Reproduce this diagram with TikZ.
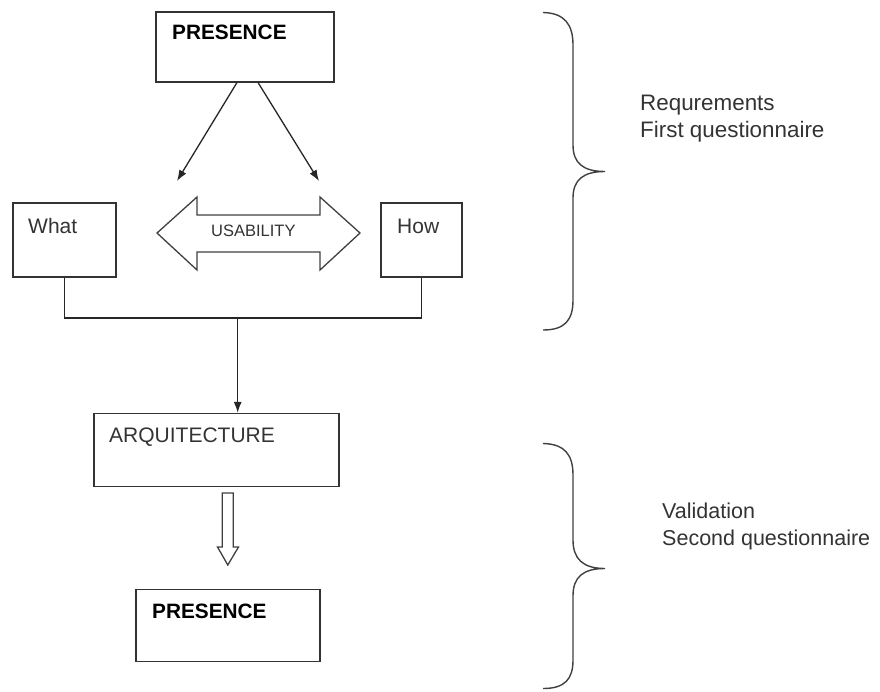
\documentclass[tikz,border=0pt]{standalone}
\usepackage{fontspec}
\setmainfont{Liberation Sans}
\usetikzlibrary{arrows.meta,calc}
\begin{document}
\begin{tikzpicture}[x=1pt,y=-1pt,
  box/.style={draw=black!80,line width=1.3pt,rectangle,inner sep=0pt},
  txt/.style={anchor=base west,inner sep=0pt,text=black!80,font=\fontsize{21}{24}\selectfont},
  bold/.style={anchor=base west,inner sep=0pt,text=black,font=\fontsize{20.8}{24}\selectfont\bfseries},
  side/.style={anchor=base west,inner sep=0pt,text=black!80,align=left,font=\fontsize{21.5}{27}\selectfont},
  conn/.style={draw=black!85,line width=1.3pt},
  arr/.style={conn,-{Latex[length=11pt,width=8pt]}},
  brace/.style={draw=black!75,line width=1.4pt},
  hollow/.style={draw=black!75,line width=1.3pt,fill=white,line join=miter}]
\useasboundingbox (0,0) rectangle (880,691);
% boxes
\node[box,minimum width=178,minimum height=70] (p1) at (245,47) {};
\node[bold] (p1t) at (172,39) {PRESENCE};
\node[box,minimum width=103,minimum height=74] (what) at (64.5,240) {};
\node[txt] (whatt) at (28,233) {What};
\node[box,minimum width=81,minimum height=74] (how) at (421.5,240) {};
\node[txt] (howt) at (397,233) {How};
\node[box,minimum width=245,minimum height=73] (arq) at (216.5,450) {};
\node[txt] (arqt) at (109,442) {ARQUITECTURE};
\node[box,minimum width=184,minimum height=72] (p2) at (228,625.5) {};
\node[bold] (p2t) at (152,618) {PRESENCE};
% arrows from top presence
\coordinate (a1) at (237,82.5);
\coordinate (a2) at (258,82.5);
\coordinate (e1) at (177,181);
\coordinate (e2) at (319,181);
\draw[arr] (a1) -- (e1);
\draw[arr] (a2) -- (e2);
% usability double arrow
\draw[hollow] (157,233) -- (197,197) -- (197,215) -- (320,215) -- (320,197) -- (360,233)
  -- (320,270) -- (320,252) -- (197,252) -- (197,270) -- cycle;
\node[anchor=base west,inner sep=0pt,text=black!80,font=\fontsize{16.5}{20}\selectfont] (us) at (211,236) {USABILITY};
% join connector
\coordinate (jn) at (237.7,318);
\draw[conn] (what.south) |- (jn) -| (how.south);
\draw[arr] (jn) -- (jn |- arq.north);
% hollow down arrow
\draw[hollow] (222.3,493) -- (233.3,493) -- (233.3,547) -- (238.5,547) -- (227.8,565)
  -- (217.5,547) -- (222.3,547) -- cycle;
% braces
\draw[brace] (543,12.5) .. controls (565,13) and (573,25) .. (573,45)
  -- (573,145) .. controls (573,163) and (583,171.5) .. (605,171.5)
  .. controls (583,171.5) and (573,180) .. (573,198)
  -- (573,300) .. controls (573,320) and (565,330) .. (543,330);
\node[side,font=\fontsize{22.4}{27}\selectfont] (s1) at (640,137) {Requrements\\First questionnaire};
\draw[brace] (543,443.5) .. controls (565,444) and (573,455) .. (573,475)
  -- (573,540) .. controls (573,559) and (583,568.5) .. (605,568.5)
  .. controls (583,568.5) and (573,577) .. (573,596)
  -- (573,660) .. controls (573,679) and (565,688.5) .. (543,688.5);
\node[side] (s2) at (662,545.5) {Validation\\Second questionnaire};
\end{tikzpicture}
\end{document}
